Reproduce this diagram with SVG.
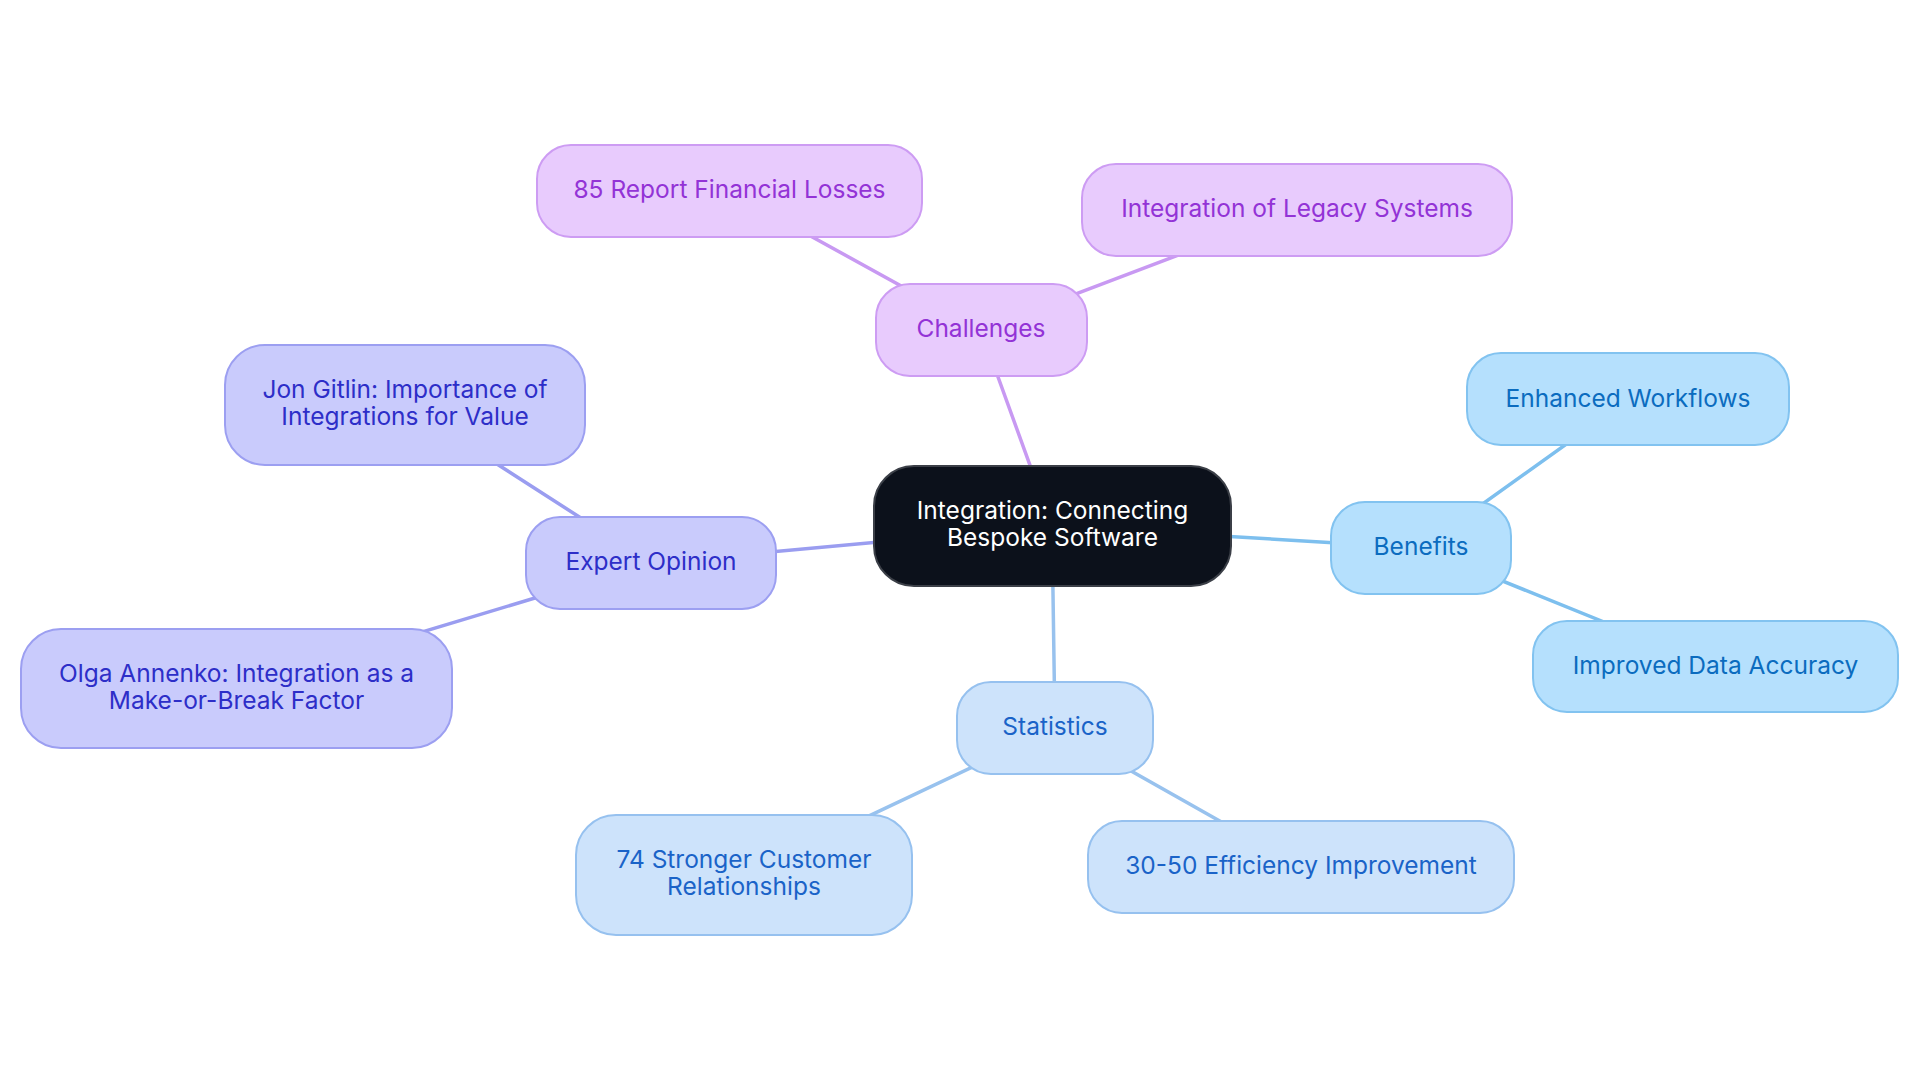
<svg xmlns="http://www.w3.org/2000/svg" width="1920" height="1083" viewBox="0 0 1920 1083">
<style>
text{font-family:Inter,"Noto Sans","Liberation Sans",sans-serif;font-size:24.5px;text-anchor:middle}
.c rect{fill:#0c111b;stroke:#3b3f47;stroke-width:2}
.c text{fill:#ffffff}
.p rect{fill:#e8cbfd;stroke:#cd9cf3;stroke-width:2}
.p text{fill:#9333d6}
.b rect{fill:#b5e0fd;stroke:#82c3f0;stroke-width:2}
.b text{fill:#0b6cbf}
.s rect{fill:#cde3fb;stroke:#96c1ef;stroke-width:2}
.s text{fill:#1a63c8}
.e rect{fill:#c9cbfc;stroke:#9c9ff1;stroke-width:2}
.e text{fill:#2d2ec8}
#edges line{stroke-width:3.5;stroke-linecap:round}
.ep{stroke:#c899f2}.eb{stroke:#7dbfee}.es{stroke:#98c2ee}.ee{stroke:#9a9df0}
</style>
<rect width="1920" height="1083" fill="#ffffff"/>
<g id="edges">
<line class="ep" x1="1052" y1="526" x2="981" y2="330"/>
<line class="ep" x1="981" y1="330" x2="729" y2="191"/>
<line class="ep" x1="981" y1="330" x2="1297" y2="210"/>
<line class="ee" x1="1052" y1="526" x2="651" y2="563"/>
<line class="ee" x1="651" y1="563" x2="405" y2="405"/>
<line class="ee" x1="651" y1="563" x2="236" y2="688"/>
<line class="eb" x1="1052" y1="526" x2="1421" y2="548"/>
<line class="eb" x1="1421" y1="548" x2="1628" y2="400"/>
<line class="eb" x1="1421" y1="548" x2="1715" y2="667"/>
<line class="es" x1="1052" y1="526" x2="1055" y2="728"/>
<line class="es" x1="1055" y1="728" x2="744" y2="875"/>
<line class="es" x1="1055" y1="728" x2="1301" y2="867"/>
</g>
<g id="center" class="c">
<rect x="874" y="466" width="357" height="120" rx="40"/>
<text x="1052.5" y="518.5">Integration: Connecting</text>
<text x="1052.5" y="545.5">Bespoke Software</text>
</g>
<g id="challenges" class="p">
<rect x="876" y="284" width="211" height="92" rx="34"/>
<text x="981" y="336.5">Challenges</text>
</g>
<g id="financial-losses" class="p">
<rect x="537" y="145" width="385" height="92" rx="34"/>
<text x="729.5" y="198">85 Report Financial Losses</text>
</g>
<g id="legacy-systems" class="p">
<rect x="1082" y="164" width="430" height="92" rx="34"/>
<text x="1297" y="216.5">Integration of Legacy Systems</text>
</g>
<g id="expert-opinion" class="e">
<rect x="526" y="517" width="250" height="92" rx="34"/>
<text x="651" y="570">Expert Opinion</text>
</g>
<g id="jon-gitlin" class="e">
<rect x="225" y="345" width="360" height="120" rx="40"/>
<text x="405" y="397.5">Jon Gitlin: Importance of</text>
<text x="405" y="424.5">Integrations for Value</text>
</g>
<g id="olga-annenko" class="e">
<rect x="21" y="629" width="431" height="119" rx="40"/>
<text x="236.5" y="681.5">Olga Annenko: Integration as a</text>
<text x="236.5" y="708.5">Make-or-Break Factor</text>
</g>
<g id="benefits" class="b">
<rect x="1331" y="502" width="180" height="92" rx="34"/>
<text x="1421" y="555">Benefits</text>
</g>
<g id="enhanced-workflows" class="b">
<rect x="1467" y="353" width="322" height="92" rx="34"/>
<text x="1628" y="406.5">Enhanced Workflows</text>
</g>
<g id="data-accuracy" class="b">
<rect x="1533" y="621" width="365" height="91" rx="34"/>
<text x="1715.5" y="673.5">Improved Data Accuracy</text>
</g>
<g id="statistics" class="s">
<rect x="957" y="682" width="196" height="92" rx="34"/>
<text x="1055" y="735">Statistics</text>
</g>
<g id="customer-relationships" class="s">
<rect x="576" y="815" width="336" height="120" rx="40"/>
<text x="744" y="867.5">74 Stronger Customer</text>
<text x="744" y="894.5">Relationships</text>
</g>
<g id="efficiency" class="s">
<rect x="1088" y="821" width="426" height="92" rx="34"/>
<text x="1301" y="874">30-50 Efficiency Improvement</text>
</g>
</svg>
